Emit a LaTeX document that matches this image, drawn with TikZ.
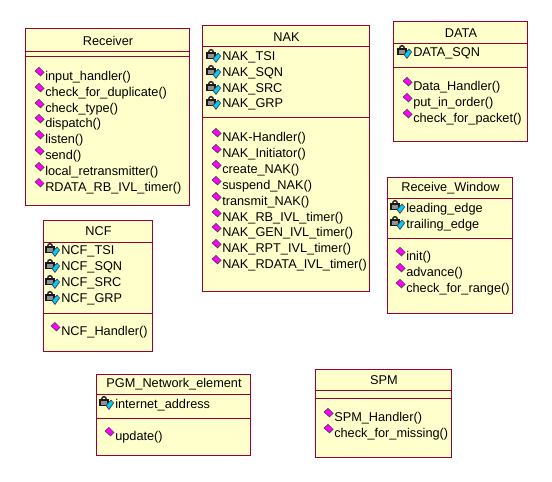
\documentclass[tikz,border=0pt]{standalone}
\usepackage{fontspec}
\setmainfont{Liberation Sans}
\newcounter{itemno}
\definecolor{boxfill}{HTML}{FFFFCC}
\definecolor{boxline}{HTML}{990033}
\definecolor{opcolor}{HTML}{FF00FF}
\definecolor{attrcolor}{HTML}{00CCFF}
\definecolor{lockcolor}{HTML}{909090}
\tikzset{
  classbox/.style={draw=boxline,fill=boxfill,line width=0.75pt},
  divider/.style={draw=boxline,line width=0.75pt},
  classtitle/.style={anchor=center,inner sep=0pt,font=\fontsize{9.55pt}{11pt}\selectfont},
  member/.style={anchor=west,inner sep=0pt,font=\fontsize{9.55pt}{11pt}\selectfont},
}
% class box: name, left, top, right, bottom, line1, line2, title
\newcommand{\classbox}[8]{
  \draw[classbox] (#2,#3) rectangle (#4,#5);
  \draw[divider] (#2,#6) -- (#4,#6);
  \draw[divider] (#2,#7) -- (#4,#7);
  \node[classtitle] (#1) at ({(#2+#4)/2+1},{(#3+#6)/2+0.5}) {#8};
}
\newcommand{\opicon}[2]{
  \fill[black!75] (#1-5,#2-5) -- (#1-0.5,#2-9) -- (#1+5,#2-3.5) -- (#1+1,#2+0.3) -- cycle;
  \fill[opcolor] (#1-4,#2-5) -- (#1-0.5,#2-8) -- (#1+4.2,#2-3.7) -- (#1+1,#2-1) -- cycle;
}
\newcommand{\attricon}[2]{
  \draw[black!85,line width=1.1pt] (#1-4.5,#2-4) .. controls (#1-4.5,#2-8.5) and (#1+0.5,#2-8.5) .. (#1+0.5,#2-4);
  \fill[lockcolor,draw=black!90,line width=0.8pt] (#1-6,#2-4) rectangle (#1+2,#2+1.5);
  \fill[black!75] (#1-0.5,#2+1.5) -- (#1+5,#2-4.5) -- (#1+8,#2-1) -- (#1+3,#2+6) -- cycle;
  \fill[attrcolor] (#1+0.7,#2+1.5) -- (#1+5,#2-3.2) -- (#1+7,#2-1) -- (#1+3,#2+4.5) -- cycle;
}
% text x, y, text
\newcommand{\opitem}[3]{
  \stepcounter{itemno}
  \opicon{#1-5.5}{#2}
  \node[member] (item\arabic{itemno}) at (#1,#2+0.8) {#3};
}
\newcommand{\attritem}[3]{
  \stepcounter{itemno}
  \attricon{#1-9}{#2}
  \node[member] (item\arabic{itemno}) at (#1,#2+0.8) {#3};
}
\begin{document}
\begin{tikzpicture}[x=0.75pt,y=-0.75pt]
\useasboundingbox (0,0) rectangle (552,481);
\fill[white] (0,0) rectangle (552,481);

\classbox{receiver}{25}{29}{189}{205}{52}{57}{Receiver}
\opitem{45}{76}{input\_handler()}
\opitem{45}{92}{check\_for\_duplicate()}
\opitem{45}{108}{check\_type()}
\opitem{45}{123}{dispatch()}
\opitem{45}{139}{listen()}
\opitem{45}{155}{send()}
\opitem{45}{171}{local\_retransmitter()}
\opitem{45}{187}{RDATA\_RB\_IVL\_timer()}

\classbox{nak}{202}{26}{369}{291}{47}{118}{NAK}
\attritem{222}{57}{NAK\_TSI}
\attritem{222}{73}{NAK\_SQN}
\attritem{222}{89}{NAK\_SRC}
\attritem{222}{104}{NAK\_GRP}
\opitem{222}{137}{NAK-Handler()}
\opitem{222}{153}{NAK\_Initiator()}
\opitem{222}{169}{create\_NAK()}
\opitem{222}{185}{suspend\_NAK()}
\opitem{222}{201}{transmit\_NAK()}
\opitem{222}{217}{NAK\_RB\_IVL\_timer()}
\opitem{222}{232}{NAK\_GEN\_IVL\_timer()}
\opitem{222}{248}{NAK\_RPT\_IVL\_timer()}
\opitem{222}{264}{NAK\_RDATA\_IVL\_timer()}

\classbox{data}{393}{22}{527}{141}{44}{68}{DATA}
\attritem{413}{53}{DATA\_SQN}
\opitem{413}{86}{Data\_Handler()}
\opitem{413}{102}{put\_in\_order()}
\opitem{413}{118}{check\_for\_packet()}

\classbox{window}{387}{177}{512}{313}{198}{238}{Receive\_Window}
\attritem{406}{208}{leading\_edge}
\attritem{406}{224}{trailing\_edge}
\opitem{406}{256}{init()}
\opitem{406}{272}{advance()}
\opitem{406}{288}{check\_for\_range()}

\classbox{ncf}{43}{220}{152}{351}{242}{313}{NCF}
\attritem{61}{251}{NCF\_TSI}
\attritem{61}{267}{NCF\_SQN}
\attritem{61}{283}{NCF\_SRC}
\attritem{61}{299}{NCF\_GRP}
\opitem{61}{331}{NCF\_Handler()}

\classbox{pgm}{96}{374}{250}{455}{394}{418}{PGM\_Network\_element}
\attritem{115}{404}{internet\_address}
\opitem{115}{436}{update()}

\classbox{spm}{315}{369}{451}{457}{390}{398}{SPM}
\opitem{334}{417}{SPM\_Handler()}
\opitem{334}{433}{check\_for\_missing()}
\end{tikzpicture}
\end{document}
